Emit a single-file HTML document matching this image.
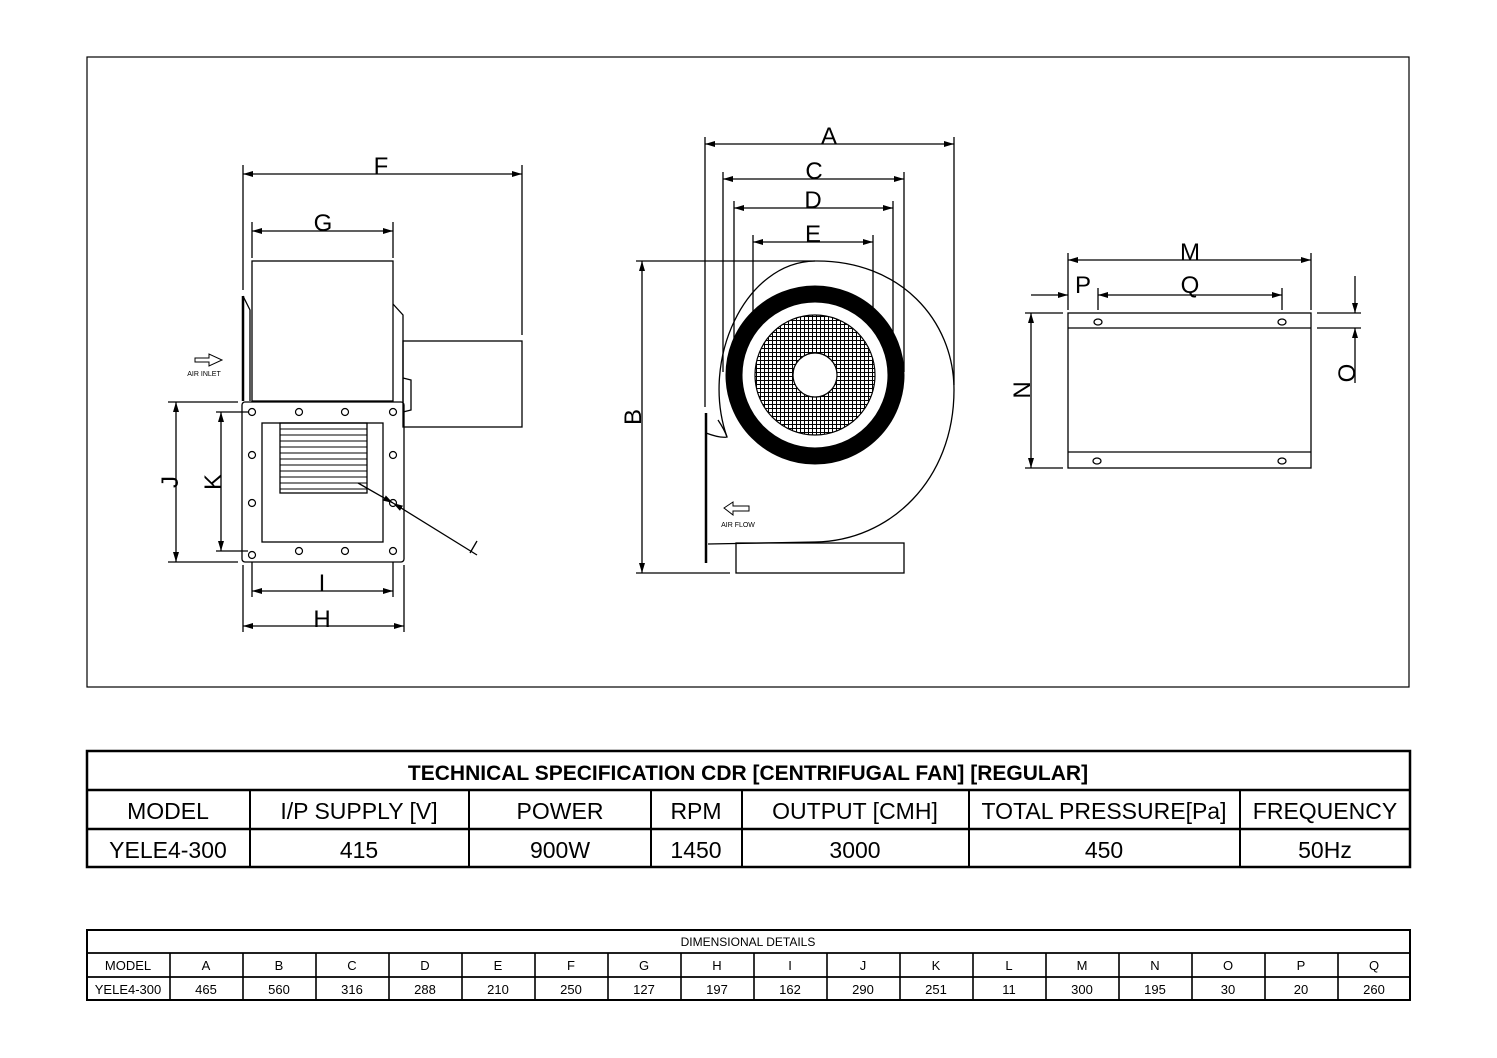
<!DOCTYPE html>
<html><head><meta charset="utf-8"><style>
html,body{margin:0;padding:0;background:#fff}
svg{display:block}
text{font-family:"Liberation Sans",sans-serif;fill:#000}
</style></head><body>
<svg width="1497" height="1058" viewBox="0 0 1497 1058" xmlns="http://www.w3.org/2000/svg">
<defs>
<marker id="ar" viewBox="0 0 10 6" refX="10" refY="3" markerWidth="10" markerHeight="6" orient="auto-start-reverse" markerUnits="userSpaceOnUse"><path d="M0,0 L10,3 L0,6 Z" fill="#000"/></marker>
<pattern id="mesh" width="4" height="4" patternUnits="userSpaceOnUse"><rect width="4" height="4" fill="#fff"/><path d="M0,0.5H4M0.5,0V4" stroke="#000" stroke-width="1"/></pattern>
</defs>
<rect x="87" y="57" width="1322" height="630" fill="none" stroke="#000" stroke-width="1.2"/>

<g stroke="#000" fill="none" stroke-width="1.3">
<!-- LEFT VIEW -->
<line x1="243" y1="165" x2="243" y2="290"/><line x1="522" y1="165" x2="522" y2="335"/>
<line x1="243" y1="174" x2="522" y2="174" marker-start="url(#ar)" marker-end="url(#ar)"/>
<line x1="252" y1="222" x2="252" y2="258"/><line x1="393" y1="222" x2="393" y2="258"/>
<line x1="252" y1="231" x2="393" y2="231" marker-start="url(#ar)" marker-end="url(#ar)"/>
<rect x="252" y="261" width="141" height="140"/>
<rect x="403" y="341" width="119" height="86"/>
<polyline points="393,304 403,315 403,402"/>
<polyline points="403,378 411,380 411,410 403,412"/>
<line x1="243" y1="296" x2="243" y2="401" stroke-width="2.5"/>
<polyline points="243,296 250,310 250,401"/>
<rect x="242" y="402" width="162" height="160" rx="3"/>
<rect x="262" y="423" width="121" height="119"/>
<rect x="280" y="423" width="87" height="70"/>
<g stroke-width="1">
<line x1="280" y1="429" x2="367" y2="429"/><line x1="280" y1="435" x2="367" y2="435"/><line x1="280" y1="441" x2="367" y2="441"/><line x1="280" y1="447" x2="367" y2="447"/><line x1="280" y1="453" x2="367" y2="453"/><line x1="280" y1="459" x2="367" y2="459"/><line x1="280" y1="465" x2="367" y2="465"/><line x1="280" y1="471" x2="367" y2="471"/><line x1="280" y1="477" x2="367" y2="477"/><line x1="280" y1="483" x2="367" y2="483"/><line x1="280" y1="489" x2="367" y2="489"/>
</g>
<g stroke-width="1.2">
<circle cx="252" cy="412" r="3.5"/><circle cx="299" cy="412" r="3.5"/><circle cx="345" cy="412" r="3.5"/><circle cx="393" cy="412" r="3.5"/>
<circle cx="252" cy="555" r="3.5"/><circle cx="299" cy="551" r="3.5"/><circle cx="345" cy="551" r="3.5"/><circle cx="393" cy="551" r="3.5"/>
<circle cx="252" cy="455" r="3.5"/><circle cx="393" cy="455" r="3.5"/><circle cx="252" cy="503" r="3.5"/><circle cx="393" cy="503" r="3.5"/>
</g>
<line x1="358" y1="483" x2="393" y2="503" marker-end="url(#ar)"/>
<line x1="477" y1="555" x2="393" y2="503" marker-end="url(#ar)"/>
<line x1="470" y1="553" x2="477" y2="541"/>
<line x1="168" y1="402" x2="238" y2="402"/><line x1="168" y1="562" x2="238" y2="562"/>
<line x1="176" y1="402" x2="176" y2="562" marker-start="url(#ar)" marker-end="url(#ar)"/>
<line x1="216" y1="412" x2="248" y2="412"/><line x1="216" y1="551" x2="248" y2="551"/>
<line x1="221" y1="412" x2="221" y2="551" marker-start="url(#ar)" marker-end="url(#ar)"/>
<line x1="252" y1="562" x2="252" y2="597"/><line x1="393" y1="562" x2="393" y2="597"/>
<line x1="252" y1="591" x2="393" y2="591" marker-start="url(#ar)" marker-end="url(#ar)"/>
<line x1="243" y1="565" x2="243" y2="632"/><line x1="404" y1="565" x2="404" y2="632"/>
<line x1="243" y1="626" x2="404" y2="626" marker-start="url(#ar)" marker-end="url(#ar)"/>
<path d="M195,358 h14 v-4 l13,6 l-13,6 v-4 h-14 z" stroke-width="1"/>

<!-- CENTER VIEW -->
<line x1="705" y1="137" x2="705" y2="407"/><line x1="954" y1="137" x2="954" y2="385"/>
<line x1="705" y1="144" x2="954" y2="144" marker-start="url(#ar)" marker-end="url(#ar)"/>
<line x1="723" y1="172" x2="723" y2="372"/><line x1="904" y1="172" x2="904" y2="372"/>
<line x1="723" y1="179" x2="904" y2="179" marker-start="url(#ar)" marker-end="url(#ar)"/>
<line x1="734" y1="201" x2="734" y2="345"/><line x1="893" y1="201" x2="893" y2="345"/>
<line x1="734" y1="208" x2="893" y2="208" marker-start="url(#ar)" marker-end="url(#ar)"/>
<line x1="753" y1="235" x2="753" y2="330"/><line x1="873" y1="235" x2="873" y2="330"/>
<line x1="753" y1="242" x2="873" y2="242" marker-start="url(#ar)" marker-end="url(#ar)"/>
<line x1="636" y1="261" x2="815" y2="261"/><line x1="636" y1="573" x2="730" y2="573"/>
<line x1="642" y1="261" x2="642" y2="573" marker-start="url(#ar)" marker-end="url(#ar)"/>
<path d="M727,437 C700,360 745,262 815,261 C900,260 954,320 954,390 C954,480 890,541 815,542 L708,544"/>
<path d="M706,413 L706,563" stroke-width="2.5"/>
<path d="M706,433 C714,436 722,438 727,437 C725,431 722,426 718,420"/>
<rect x="736" y="543" width="168" height="30"/>
<circle cx="815" cy="375" r="81" stroke="#000" stroke-width="17"/>
<circle cx="815" cy="375" r="60" fill="url(#mesh)" stroke-width="1.2"/>
<circle cx="815" cy="375" r="22" fill="#fff" stroke-width="1.2"/>
<path d="M724,508 l9,-6 v4 h16 v5 h-16 v4 z" stroke-width="1"/>

<!-- RIGHT VIEW -->
<line x1="1068" y1="253" x2="1068" y2="310"/><line x1="1311" y1="253" x2="1311" y2="310"/>
<line x1="1068" y1="260" x2="1311" y2="260" marker-start="url(#ar)" marker-end="url(#ar)"/>
<line x1="1031" y1="295" x2="1068" y2="295" marker-end="url(#ar)"/>
<line x1="1098" y1="288" x2="1098" y2="310"/><line x1="1282" y1="288" x2="1282" y2="310"/>
<line x1="1098" y1="295" x2="1282" y2="295" marker-start="url(#ar)" marker-end="url(#ar)"/>
<rect x="1068" y="313" width="243" height="155"/>
<line x1="1068" y1="328" x2="1311" y2="328"/><line x1="1068" y1="452" x2="1311" y2="452"/>
<ellipse cx="1098" cy="322" rx="4" ry="3"/><ellipse cx="1282" cy="322" rx="4" ry="3"/>
<ellipse cx="1097" cy="461" rx="4" ry="3"/><ellipse cx="1282" cy="461" rx="4" ry="3"/>
<line x1="1025" y1="313" x2="1063" y2="313"/><line x1="1025" y1="468" x2="1063" y2="468"/>
<line x1="1031" y1="313" x2="1031" y2="468" marker-start="url(#ar)" marker-end="url(#ar)"/>
<line x1="1317" y1="313" x2="1361" y2="313"/><line x1="1317" y1="328" x2="1361" y2="328"/>
<line x1="1355" y1="276" x2="1355" y2="313" marker-end="url(#ar)"/>
<line x1="1355" y1="383" x2="1355" y2="328" marker-end="url(#ar)"/>
</g>

<g font-size="24">
<text x="381" y="174" text-anchor="middle">F</text>
<text x="323" y="231" text-anchor="middle">G</text>
<text x="322" y="591" text-anchor="middle">I</text>
<text x="322" y="627" text-anchor="middle">H</text>
<text transform="translate(178,482) rotate(-90)" text-anchor="middle">J</text>
<text transform="translate(221,482) rotate(-90)" text-anchor="middle">K</text>
<text x="829" y="144" text-anchor="middle">A</text>
<text x="814" y="179" text-anchor="middle">C</text>
<text x="813" y="208" text-anchor="middle">D</text>
<text x="813" y="242" text-anchor="middle">E</text>
<text transform="translate(641,417) rotate(-90)" text-anchor="middle">B</text>
<text x="1190" y="260" text-anchor="middle">M</text>
<text x="1083" y="293" text-anchor="middle">P</text>
<text x="1190" y="293" text-anchor="middle">Q</text>
<text transform="translate(1030,390) rotate(-90)" text-anchor="middle">N</text>
<text transform="translate(1355,373) rotate(-90)" text-anchor="middle">O</text>
</g>
<text x="204" y="376" font-size="7" text-anchor="middle">AIR INLET</text>
<text x="738" y="527" font-size="7" text-anchor="middle">AIR FLOW</text>

<!-- TABLE 1 -->
<g stroke="#000" fill="none">
<rect x="87" y="751" width="1323" height="116" stroke-width="2.5"/>
<line x1="87" y1="790" x2="1410" y2="790" stroke-width="2.5"/>
<line x1="87" y1="829" x2="1410" y2="829" stroke-width="2.5"/>
<g stroke-width="2">
<line x1="250" y1="790" x2="250" y2="867"/><line x1="469" y1="790" x2="469" y2="867"/><line x1="651" y1="790" x2="651" y2="867"/><line x1="742" y1="790" x2="742" y2="867"/><line x1="969" y1="790" x2="969" y2="867"/><line x1="1240" y1="790" x2="1240" y2="867"/>
</g>
</g>
<g font-size="23" text-anchor="middle" textLength="0">
<text x="748" y="780" font-weight="bold" font-size="21">TECHNICAL SPECIFICATION CDR [CENTRIFUGAL FAN] [REGULAR]</text>
<text x="168" y="819">MODEL</text><text x="359" y="819">I/P SUPPLY [V]</text><text x="560" y="819">POWER</text><text x="696" y="819">RPM</text><text x="855" y="819">OUTPUT [CMH]</text><text x="1104" y="819">TOTAL PRESSURE[Pa]</text><text x="1325" y="819">FREQUENCY</text>
<text x="168" y="858">YELE4-300</text><text x="359" y="858">415</text><text x="560" y="858">900W</text><text x="696" y="858">1450</text><text x="855" y="858">3000</text><text x="1104" y="858">450</text><text x="1325" y="858">50Hz</text>
</g>

<!-- TABLE 2 -->
<g stroke="#000" fill="none">
<rect x="87" y="930" width="1323" height="70" stroke-width="2"/>
<line x1="87" y1="953" x2="1410" y2="953" stroke-width="1.8"/>
<line x1="87" y1="977" x2="1410" y2="977" stroke-width="1.8"/>
<g stroke-width="1.6">
<line x1="170" y1="953" x2="170" y2="1000"/><line x1="243" y1="953" x2="243" y2="1000"/><line x1="316" y1="953" x2="316" y2="1000"/><line x1="389" y1="953" x2="389" y2="1000"/><line x1="462" y1="953" x2="462" y2="1000"/><line x1="535" y1="953" x2="535" y2="1000"/><line x1="608" y1="953" x2="608" y2="1000"/><line x1="681" y1="953" x2="681" y2="1000"/><line x1="754" y1="953" x2="754" y2="1000"/><line x1="827" y1="953" x2="827" y2="1000"/><line x1="900" y1="953" x2="900" y2="1000"/><line x1="973" y1="953" x2="973" y2="1000"/><line x1="1046" y1="953" x2="1046" y2="1000"/><line x1="1119" y1="953" x2="1119" y2="1000"/><line x1="1192" y1="953" x2="1192" y2="1000"/><line x1="1265" y1="953" x2="1265" y2="1000"/><line x1="1338" y1="953" x2="1338" y2="1000"/>
</g>
</g>
<g font-size="13" text-anchor="middle">
<text x="748" y="946" font-size="12">DIMENSIONAL DETAILS</text>
<text x="128" y="970">MODEL</text><text x="206" y="970">A</text><text x="279" y="970">B</text><text x="352" y="970">C</text><text x="425" y="970">D</text><text x="498" y="970">E</text><text x="571" y="970">F</text><text x="644" y="970">G</text><text x="717" y="970">H</text><text x="790" y="970">I</text><text x="863" y="970">J</text><text x="936" y="970">K</text><text x="1009" y="970">L</text><text x="1082" y="970">M</text><text x="1155" y="970">N</text><text x="1228" y="970">O</text><text x="1301" y="970">P</text><text x="1374" y="970">Q</text>
<text x="128" y="994">YELE4-300</text><text x="206" y="994">465</text><text x="279" y="994">560</text><text x="352" y="994">316</text><text x="425" y="994">288</text><text x="498" y="994">210</text><text x="571" y="994">250</text><text x="644" y="994">127</text><text x="717" y="994">197</text><text x="790" y="994">162</text><text x="863" y="994">290</text><text x="936" y="994">251</text><text x="1009" y="994">11</text><text x="1082" y="994">300</text><text x="1155" y="994">195</text><text x="1228" y="994">30</text><text x="1301" y="994">20</text><text x="1374" y="994">260</text>
</g>
</svg>
</body></html>
